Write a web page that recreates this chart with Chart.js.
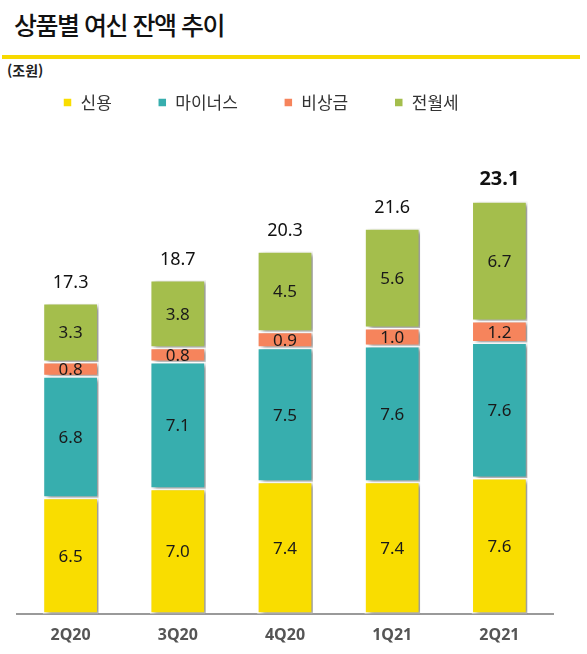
<!DOCTYPE html>
<html lang="ko">
<head>
    <meta charset="UTF-8">
    <title>상품별 여신 잔액 추이</title>
    <script src="https://cdn.jsdelivr.net/npm/chart.js"></script>
    <style>
        body {
            margin: 0;
            background: #fff;
            width: 587px;
            height: 654px;
            overflow: hidden;
            font-family: "Noto Sans CJK KR", "Noto Sans", sans-serif;
        }

        .title {
            position: absolute;
            left: 14px;
            top: 6px;
            font-size: 25px;
            font-weight: 500;
            color: #111;
            letter-spacing: -1.5px;
        }

        .rule {
            position: absolute;
            left: 2px;
            top: 55px;
            width: 578px;
            height: 4px;
            background: #f7d900;
        }

        .unit {
            position: absolute;
            left: 7px;
            top: 60px;
            font-size: 14px;
            font-weight: 700;
            color: #222;
        }

        .chart-box {
            position: absolute;
            left: 0;
            top: 48px;
            width: 587px;
            height: 606px;
        }
    </style>
</head>
<body>
    <div class="title">상품별 여신 잔액 추이</div>
    <div class="rule"></div>
    <div class="unit">(조원)</div>

    <div class="chart-box">
        <canvas id="loanChart"></canvas>
    </div>

    <script>
        // data (조원)
        const quarters = ['2Q20', '3Q20', '4Q20', '1Q21', '2Q21'];
        const credit = [6.5, 7.0, 7.4, 7.4, 7.6];      // 신용
        const minus = [6.8, 7.1, 7.5, 7.6, 7.6];       // 마이너스
        const emergency = [0.8, 0.8, 0.9, 1.0, 1.2];   // 비상금
        const rent = [3.3, 3.8, 4.5, 5.6, 6.7];        // 전월세
        const totals = [17.3, 18.7, 20.3, 21.6, 23.1];

        const numFont = '"Noto Sans", "Open Sans", sans-serif';

        // drop shadow on the bars
        const barShadow = {
            id: 'barShadow',
            beforeDatasetDraw(chart) {
                const ctx = chart.ctx;
                ctx.save();
                ctx.shadowColor = 'rgba(0,0,0,0.4)';
                ctx.shadowBlur = 4;
                ctx.shadowOffsetX = 4;
                ctx.shadowOffsetY = 2;
            },
            afterDatasetDraw(chart) {
                chart.ctx.restore();
            }
        };

        // values inside segments + totals on top
        const barLabels = {
            id: 'barLabels',
            afterDatasetsDraw(chart) {
                const ctx = chart.ctx;
                ctx.save();
                ctx.textAlign = 'center';
                ctx.textBaseline = 'middle';
                chart.data.datasets.forEach((ds, i) => {
                    const meta = chart.getDatasetMeta(i);
                    meta.data.forEach((bar, j) => {
                        const y = (bar.y + bar.base) / 2;
                        ctx.fillStyle = '#1a1a1a';
                        ctx.font = '17px ' + numFont;
                        ctx.fillText(ds.data[j].toFixed(1), bar.x, y + 1);
                    });
                });
                const top = chart.getDatasetMeta(chart.data.datasets.length - 1);
                top.data.forEach((bar, j) => {
                    const last = j === totals.length - 1;
                    ctx.fillStyle = '#111';
                    ctx.font = (last ? 'bold 20px ' : '18px ') + numFont;
                    ctx.fillText(totals[j].toFixed(1), bar.x, bar.y - (last ? 22 : 20));
                });
                ctx.restore();
            }
        };

        const ctx = document.getElementById('loanChart').getContext('2d');
        const loanChart = new Chart(ctx, {
            type: 'bar',
            data: {
                labels: quarters,
                datasets: [
                    { label: '신용', data: credit, backgroundColor: '#f9dd00' },
                    { label: '마이너스', data: minus, backgroundColor: '#37aeae' },
                    { label: '비상금', data: emergency, backgroundColor: '#f6845c' },
                    { label: '전월세', data: rent, backgroundColor: '#a4be4c' }
                ]
            },
            options: {
                responsive: true,
                maintainAspectRatio: false,
                animation: false,
                layout: {
                    padding: { left: 17, right: 34, top: 0, bottom: 5 }
                },
                datasets: {
                    bar: {
                        borderColor: '#ffffff',
                        borderWidth: 1.5,
                        borderSkipped: false,
                        barPercentage: 0.52,
                        categoryPercentage: 1.0
                    }
                },
                plugins: {
                    legend: {
                        position: 'top',
                        align: 'start',
                        labels: {
                            boxWidth: 9,
                            boxHeight: 9,
                            padding: 46,
                            color: '#333',
                            font: { size: 17, family: '"Noto Sans CJK KR", sans-serif' }
                        }
                    },
                    tooltip: { enabled: false }
                },
                scales: {
                    x: {
                        stacked: true,
                        grid: { display: false },
                        border: { display: true, color: '#9a9a9a', width: 2 },
                        ticks: {
                            color: '#555',
                            padding: 4,
                            font: { size: 16, weight: 'bold', family: numFont }
                        }
                    },
                    y: {
                        stacked: true,
                        display: false,
                        min: 0,
                        max: 27.6
                    }
                }
            },
            plugins: [barShadow, barLabels]
        });
    </script>
</body>
</html>
